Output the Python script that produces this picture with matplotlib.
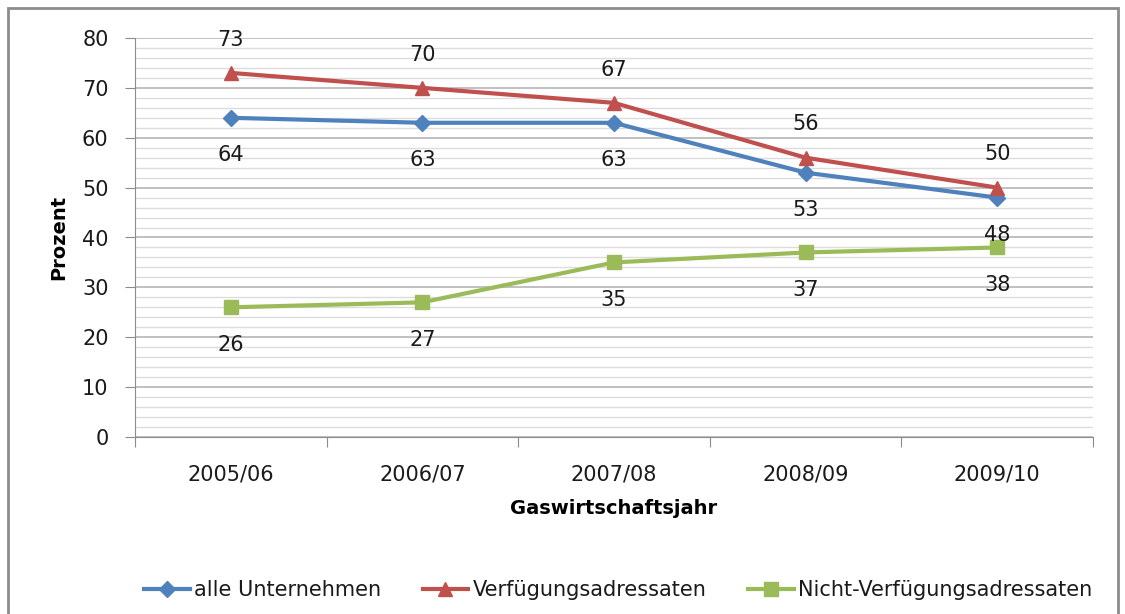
import matplotlib.pyplot as plt
from matplotlib.patches import Rectangle
from matplotlib.ticker import MultipleLocator

plt.rcParams['font.family'] = ['DejaVu Sans']
plt.rcParams['text.color'] = '#1a1a1a'
plt.rcParams['xtick.labelcolor'] = '#1a1a1a'
plt.rcParams['ytick.labelcolor'] = '#1a1a1a'

jahre = ['2005/06', '2006/07', '2007/08', '2008/09', '2009/10']
alle = [64, 63, 63, 53, 48]
verf = [73, 70, 67, 56, 50]
nicht = [26, 27, 35, 37, 38]

fig = plt.figure(figsize=(11.25, 6.14), dpi=100)
fig.patches.append(Rectangle((8/1125, -0.05), 1110/1125, 1.05 - 8/614,
                             transform=fig.transFigure, fill=False,
                             edgecolor='#8c8c8c', linewidth=2, zorder=0))
ax = fig.add_axes([135/1125, 1 - 437/614, 958/1125, 399/614])

x = range(len(jahre))
ax.plot(x, alle, color='#4F81BD', lw=3, marker='D', ms=8, label='alle Unternehmen', zorder=3)
ax.plot(x, verf, color='#C0504D', lw=3, marker='^', ms=10, label='Verfügungsadressaten', zorder=3)
ax.plot(x, nicht, color='#9BBB59', lw=3, marker='s', ms=10, label='Nicht-Verfügungsadressaten', zorder=3)

for i in x:
    ax.annotate(str(alle[i]), (i, alle[i]), xytext=(0, -27), textcoords='offset points',
                ha='center', va='center', fontsize=15)
    ax.annotate(str(verf[i]), (i, verf[i]), xytext=(0, 24), textcoords='offset points',
                ha='center', va='center', fontsize=15)
    ax.annotate(str(nicht[i]), (i, nicht[i]), xytext=(0, -27), textcoords='offset points',
                ha='center', va='center', fontsize=15)

ax.set_xlim(-0.5, 4.5)
ax.set_ylim(0, 80)
ax.yaxis.set_major_locator(MultipleLocator(10))
ax.yaxis.set_minor_locator(MultipleLocator(2))
ax.grid(axis='y', which='major', color='#b5b5b5', lw=1.2)
ax.grid(axis='y', which='minor', color='#dcdcdc', lw=1)
ax.set_axisbelow(True)

ax.set_xticks([i - 0.5 for i in range(len(jahre) + 1)])
ax.set_xticklabels([])
ax.set_xticks(list(x), minor=True)
ax.set_xticklabels(jahre, minor=True, fontsize=15)
ax.tick_params(axis='x', which='minor', length=0, pad=20)
ax.tick_params(axis='x', which='major', length=7, color='#8c8c8c')
ax.tick_params(axis='y', which='major', length=7, color='#8c8c8c', labelsize=15, pad=12)
ax.tick_params(axis='y', which='minor', length=0)

for s in ['top', 'right']:
    ax.spines[s].set_visible(False)
for s in ['left', 'bottom']:
    ax.spines[s].set_color('#8c8c8c')

ax.set_ylabel('Prozent', fontsize=14, fontweight='bold', labelpad=10)
ax.set_xlabel('Gaswirtschaftsjahr', fontsize=14, fontweight='bold', labelpad=10)

fig.legend(loc='center', bbox_to_anchor=(618/1125, 1 - 590/614), ncol=3, frameon=False,
           fontsize=15, handlelength=2.2, columnspacing=2.0, handletextpad=0.2)

fig.savefig('out.png', dpi=100)
